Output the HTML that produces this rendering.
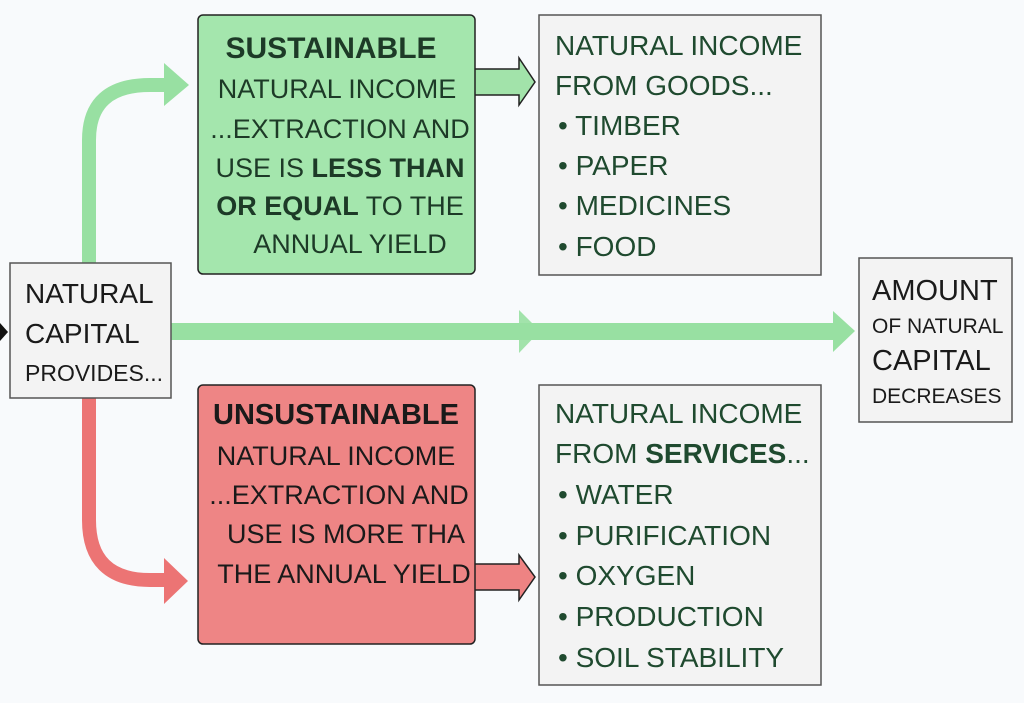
<!DOCTYPE html>
<html><head><meta charset="utf-8"><style>
html,body{margin:0;padding:0;background:#f8fafc;}
svg{display:block;}
text{font-family:"Liberation Sans",sans-serif;}
</style></head><body>
<svg width="1024" height="703" viewBox="0 0 1024 703" xmlns="http://www.w3.org/2000/svg">
<rect width="1024" height="703" fill="#f8fafc"/>
<path d="M89,263 L89,140 Q89,85 150,85 L165,85" fill="none" stroke="#98e0a2" stroke-width="14"/>
<polygon points="164,63 189,85 164,106" fill="#98e0a2"/>
<path d="M89,398 L89,520 Q89,580 150,580 L165,580" fill="none" stroke="#ec7474" stroke-width="14"/>
<polygon points="164,558 188,581 164,604" fill="#ec7474"/>
<rect x="171" y="323" width="668" height="17" fill="#98e0a2"/>
<polygon points="519,310 540,331 519,353" fill="#98e0a2" opacity="0.9"/>
<polygon points="833,311 855,331 833,352" fill="#98e0a2"/>
<polygon points="0,323 8,332 0,341" fill="#111"/>
<polygon points="474,69 519,69 519,58 535,82 519,105 519,95 474,95" fill="#a2e3aa" stroke="#222" stroke-width="1.5"/>
<polygon points="474,564 519,564 519,555 535,577 519,600 519,590 474,590" fill="#ee8383" stroke="#222" stroke-width="1.5"/>
<rect x="198" y="15" width="277" height="259" rx="5" fill="#a4e6ad" stroke="#222" stroke-width="1.5"/>
<rect x="198" y="385" width="277" height="259" rx="5" fill="#ee8585" stroke="#222" stroke-width="1.5"/>
<rect x="10" y="263" width="161" height="135" fill="#f3f3f3" stroke="#555" stroke-width="1.5"/>
<rect x="539" y="15" width="282" height="260" fill="#f3f3f3" stroke="#555" stroke-width="1.5"/>
<rect x="539" y="385" width="282" height="300" fill="#f3f3f3" stroke="#555" stroke-width="1.5"/>
<rect x="859" y="258" width="153" height="164" fill="#f3f3f3" stroke="#555" stroke-width="1.5"/>
<g fill="#1a1a1a" font-size="28">
<text x="25" y="303">NATURAL</text>
<text x="25" y="343">CAPITAL</text>
<text x="25" y="381" font-size="23">PROVIDES...</text>
</g>
<g fill="#1d3a27" font-size="27" text-anchor="middle">
<text x="331" y="58" font-size="30" font-weight="600">SUSTAINABLE</text>
<text x="337" y="98">NATURAL INCOME</text>
<text x="340" y="138">...EXTRACTION AND</text>
<text x="340" y="177">USE IS <tspan font-weight="bold">LESS THAN</tspan></text>
<text x="340" y="215"><tspan font-weight="bold">OR EQUAL</tspan> TO THE</text>
<text x="350" y="253">ANNUAL YIELD</text>
</g>
<g fill="#1a1a1a" font-size="27" text-anchor="middle">
<text x="336" y="424" font-size="29" font-weight="600">UNSUSTAINABLE</text>
<text x="336" y="465">NATURAL INCOME</text>
<text x="339" y="504">...EXTRACTION AND</text>
<text x="346" y="543">USE IS MORE THA</text>
<text x="344" y="583">THE ANNUAL YIELD</text>
</g>
<g fill="#1f4a2f" font-size="28">
<text x="555" y="55">NATURAL INCOME</text>
<text x="555" y="95">FROM GOODS...</text>
<text x="558" y="135">• TIMBER</text>
<text x="558" y="175">• PAPER</text>
<text x="558" y="215">• MEDICINES</text>
<text x="558" y="256">• FOOD</text>
</g>
<g fill="#1f4a2f" font-size="28">
<text x="555" y="423">NATURAL INCOME</text>
<text x="555" y="463">FROM <tspan font-weight="bold">SERVICES</tspan>...</text>
<text x="558" y="504">• WATER</text>
<text x="558" y="545">• PURIFICATION</text>
<text x="558" y="585">• OXYGEN</text>
<text x="558" y="626">• PRODUCTION</text>
<text x="558" y="667">• SOIL STABILITY</text>
</g>
<g fill="#1a1a1a">
<text x="872" y="300" font-size="29">AMOUNT</text>
<text x="872" y="333" font-size="21">OF NATURAL</text>
<text x="872" y="370" font-size="29">CAPITAL</text>
<text x="872" y="403" font-size="21">DECREASES</text>
</g>
</svg>
</body></html>
